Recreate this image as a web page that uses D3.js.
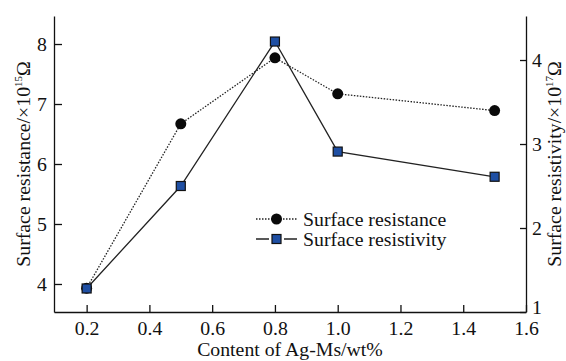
<!DOCTYPE html>
<html><head><meta charset="utf-8">
<script src="https://cdn.jsdelivr.net/npm/d3@7"></script>
<style>body{margin:0;background:#fff}svg{display:block}text{font-family:"Liberation Serif","Times New Roman",serif;fill:#111}</style>
</head><body><svg id="c" width="566" height="361"></svg>
<script>
const content = [0.2, 0.5, 0.8, 1.0, 1.5];
const resistance = [3.93, 6.67, 7.77, 7.17, 6.89];      // ×10^15 Ω (left)
const resistivity = [1.28, 2.50, 4.22, 2.91, 2.61];     // ×10^17 Ω (right)
const xTicks = [0.2, 0.4, 0.6, 0.8, 1.0, 1.2, 1.4, 1.6];
const yLeftTicks = [4, 5, 6, 7, 8];
const yRightTicks = [1, 2, 3, 4];
const seriesNames = ["Surface resistance", "Surface resistivity"];

const svg = d3.select("#c");
const L = 54, R = 526, T = 16, B = 312;
const x = d3.scaleLinear().domain([0.096, 1.6]).range([L, R]);
const yL = d3.scaleLinear().domain([3.533, 8.467]).range([B, T]);
const yR = d3.scaleLinear().domain([1, 4.524]).range([B, T]);
const fs = 19.8;
const FF = '"Liberation Serif","Times New Roman",serif';

const axStyle = g => {
  g.attr("font-family", FF).attr("font-size", fs);
  g.selectAll("path.domain").attr("stroke", "#111").attr("stroke-width", 1.3);
  g.selectAll(".tick line").attr("stroke", "#111").attr("stroke-width", 1.3);
  g.selectAll("text").attr("font-size", fs).attr("font-family", FF).attr("fill", "#111");
};

svg.append("g").attr("transform", `translate(0,${B})`)
  .call(d3.axisBottom(x).tickValues(xTicks).tickFormat(d3.format(".1f")).tickSizeInner(-7).tickSizeOuter(0).tickPadding(9))
  .call(axStyle);
svg.append("g").attr("transform", `translate(${L},0)`)
  .call(d3.axisLeft(yL).tickValues(yLeftTicks).tickFormat(d3.format("d")).tickSizeInner(-8).tickSizeOuter(0).tickPadding(7))
  .call(axStyle);
const gR = svg.append("g").attr("transform", `translate(${R},0)`)
  .call(d3.axisRight(yR).tickValues(yRightTicks).tickFormat(d3.format("d")).tickSizeInner(-6).tickSizeOuter(0).tickPadding(6))
  .call(axStyle);
gR.selectAll(".tick text").filter(d => d === 1).attr("dy", "0.05em");

// axis titles
svg.append("text").attr("x", (L + R) / 2).attr("y", 356).attr("text-anchor", "middle")
  .attr("font-size", fs).attr("font-family", FF).text("Content of Ag-Ms/wt%");

function yTitle(xc, label, exp) {
  const t = svg.append("text").attr("transform", `translate(${xc},${(T + B) / 2}) rotate(-90)`)
    .attr("text-anchor", "middle").attr("font-size", fs).attr("font-family", FF);
  t.append("tspan").text(label + "/×10");
  t.append("tspan").attr("font-size", 11).attr("dy", -8).text(exp);
  t.append("tspan").attr("dy", 8).text("Ω");
}
yTitle(30, "Surface resistance", "15");
yTitle(561, "Surface resistivity", "17");

const data = content.map((c, i) => ({c, r: resistance[i], s: resistivity[i]}));

// lines
svg.append("path").datum(data).attr("fill", "none").attr("stroke", "#222").attr("stroke-width", 1.3)
  .attr("stroke-dasharray", "1.5,1.5")
  .attr("d", d3.line().x(d => x(d.c)).y(d => yL(d.r)));
svg.append("path").datum(data).attr("fill", "none").attr("stroke", "#222").attr("stroke-width", 1.3)
  .attr("d", d3.line().x(d => x(d.c)).y(d => yR(d.s)));

// markers
svg.selectAll("circle.r").data(data).enter().append("circle")
  .attr("cx", d => x(d.c)).attr("cy", d => yL(d.r)).attr("r", 5.5).attr("fill", "#0a0a0a");
const sq = 9;
svg.selectAll("rect.s").data(data).enter().append("rect")
  .attr("x", d => x(d.c) - sq / 2).attr("y", d => yR(d.s) - sq / 2).attr("width", sq).attr("height", sq)
  .attr("fill", "#1f4fa3").attr("stroke", "#111").attr("stroke-width", 1.2);

// legend
const lg = svg.append("g").attr("font-family", FF);
lg.append("line").attr("x1", 256).attr("x2", 297).attr("y1", 219).attr("y2", 219)
  .attr("stroke", "#222").attr("stroke-width", 1.3).attr("stroke-dasharray", "1.5,1.5");
lg.append("circle").attr("cx", 276.5).attr("cy", 219).attr("r", 5.5).attr("fill", "#0a0a0a");
lg.append("text").attr("x", 303).attr("y", 219).attr("dy", "0.33em").attr("font-size", fs).attr("font-family", FF).text(seriesNames[0]);
lg.append("line").attr("x1", 256).attr("x2", 269).attr("y1", 239).attr("y2", 239).attr("stroke", "#222").attr("stroke-width", 1.5);
lg.append("line").attr("x1", 284).attr("x2", 297).attr("y1", 239).attr("y2", 239).attr("stroke", "#222").attr("stroke-width", 1.5);
lg.append("rect").attr("x", 276.5 - sq / 2).attr("y", 239 - sq / 2).attr("width", sq).attr("height", sq)
  .attr("fill", "#1f4fa3").attr("stroke", "#111").attr("stroke-width", 1.2);
lg.append("text").attr("x", 303).attr("y", 239).attr("dy", "0.33em").attr("font-size", fs).attr("font-family", FF).text(seriesNames[1]);
</script></body></html>
